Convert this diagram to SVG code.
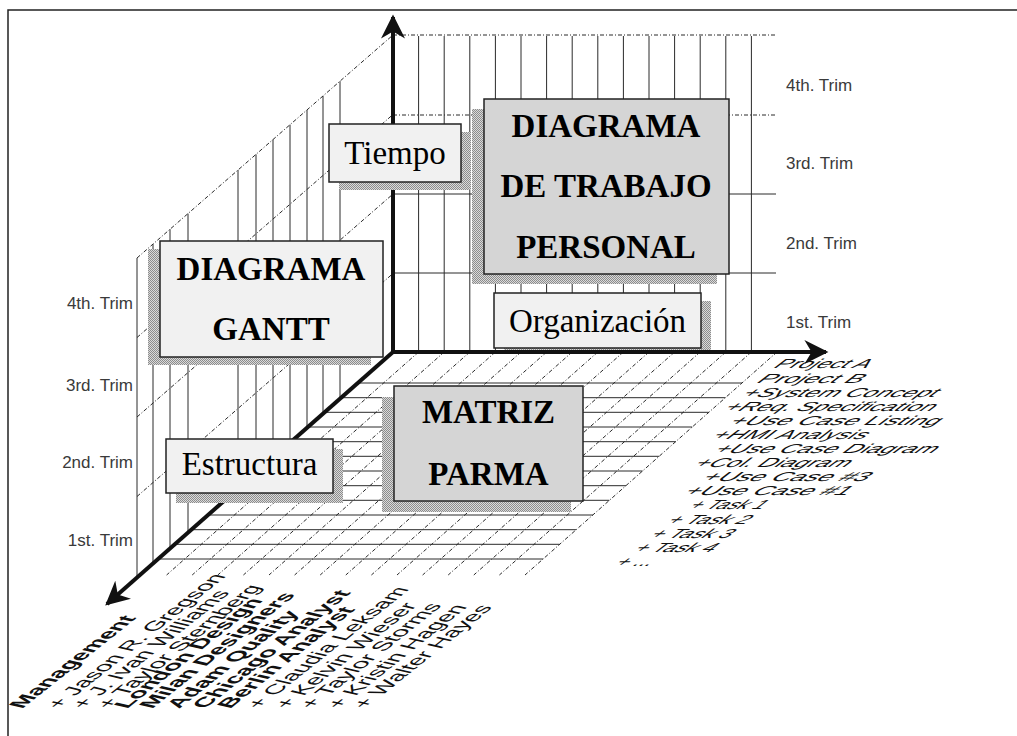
<svg xmlns="http://www.w3.org/2000/svg" width="1017" height="736" viewBox="0 0 1017 736">
<defs>
<pattern id="stip" width="2" height="2" patternUnits="userSpaceOnUse"><rect width="2" height="2" fill="#dadada"/><rect width="1" height="1" fill="#8c8c8c"/><rect x="1" y="1" width="1" height="1" fill="#8c8c8c"/></pattern>
<marker id="ah" viewBox="0 0 10 10" refX="9" refY="5" markerWidth="6.5" markerHeight="6" orient="auto" markerUnits="strokeWidth"><path d="M0,0 L10,5 L0,10 L3,5 z" fill="#111"/></marker>
<style>
.g{stroke:#2a2a2a;stroke-width:1;fill:none}
.d{stroke:#2a2a2a;stroke-width:1;fill:none;stroke-dasharray:4 2 1 2}
.ax{stroke:#111;stroke-width:4;fill:none}
.sh{fill:url(#stip)}
.bl{fill:#f1f1f1;stroke:#222;stroke-width:1.5}
.bd{fill:#d5d5d5;stroke:#222;stroke-width:1.5}
.t{font-family:"Liberation Serif","Times New Roman",serif;font-size:33px;fill:#000;text-anchor:middle}
.tb{font-weight:bold}
.tr{font-family:"Liberation Sans",Arial,sans-serif;font-size:17px;fill:#3a3a3a}
.rl{font-family:"Liberation Sans",Arial,sans-serif;font-size:18px;fill:#111}
.fl{font-family:"Liberation Sans",Arial,sans-serif;font-size:16px;fill:#111}
.fb{font-weight:bold}
</style>
</defs>
<rect width="1017" height="736" fill="#fff"/>
<path d="M8,736 V10 H1017" stroke="#222" stroke-width="1.5" fill="none"/>

<g id="back-wall">
<path class="g" d="M418.6,36V352M444.2,36V352M469.8,36V352M495.4,36V352M521,36V352M546.6,36V352M572.2,36V352M597.8,36V352M623.4,36V352M649,36V352M674.6,36V352M700.2,36V352M725.8,36V352M751.4,36V352"/>
<path class="g" d="M393,194H776M393,273H776"/>
<path class="d" d="M393,35H776M393,115H776"/>
</g>

<g id="left-wall">
<path class="g" d="M137,258V578.6M153,244.1V564.4M170,229.2V549.4M188,213.6V533.5M238,170V489.3M256,154.4V473.2M273,139.5V458.2M290,124.8V443.2M307,110V428.1M323,96V414M340,81.2V398.9"/>
<path class="d" d="M137,258L393,35M137,337.5L393,114.5M137,417L393,194M137,496.5L393,273.5"/>
</g>

<g id="floor">
<path class="g" d="M358,383H742M341.4,397.7H725.4M324.8,412.3H708.8M308.3,427H692.3M291.7,441.7H675.7M275.1,456.3H659.1M258.5,471H642.5M242,485.7H626M225.4,500.3H609.4M208.8,515H592.8M192.2,529.7H576.2M175.7,544.3H559.7M159.1,559H543.1"/>
<path class="d" d="M418.6,352L166.6,575M444.2,352L192.2,575M469.8,352L217.8,575M495.4,352L243.4,575M521,352L269,575M546.6,352L294.6,575M572.2,352L320.2,575M597.8,352L345.8,575M623.4,352L371.4,575M649,352L397,575M674.6,352L422.6,575M700.2,352L448.2,575M725.8,352L473.8,575M751.4,352L499.4,575M777,352L525,575"/>
</g>

<g id="connectors">
<path class="ax" d="M393,352V17" marker-end="url(#ah)"/>
<path class="ax" d="M393,352H826" marker-end="url(#ah)"/>
<path class="ax" d="M393,352L107,604" marker-end="url(#ah)"/>
</g>

<g id="tiempo">
<rect class="sh" x="339" y="132" width="132" height="58"/>
<rect class="bl" x="329" y="124" width="132" height="58"/>
<text class="t" x="395" y="164">Tiempo</text>
</g>

<g id="diagrama-trabajo">
<rect class="sh" x="472" y="109" width="245" height="175"/>
<rect class="bd" x="484" y="99" width="245" height="175"/>
<text class="t tb" x="606" y="137">DIAGRAMA</text>
<text class="t tb" x="606" y="197">DE TRABAJO</text>
<text class="t tb" x="606" y="258">PERSONAL</text>
</g>

<g id="diagrama-gantt">
<rect class="sh" x="148" y="249" width="223" height="116"/>
<rect class="bl" x="160" y="241" width="223" height="116"/>
<text class="t tb" x="271" y="280">DIAGRAMA</text>
<text class="t tb" x="271" y="340">GANTT</text>
</g>

<g id="organizacion">
<rect class="sh" x="504" y="301" width="207" height="49"/>
<rect class="bl" x="494" y="293" width="207" height="55"/>
<text class="t" x="597.5" y="332">Organización</text>
</g>

<g id="estructura">
<rect class="sh" x="176" y="449" width="167" height="54"/>
<rect class="bl" x="166" y="439" width="167" height="54"/>
<text class="t" x="249.5" y="475">Estructura</text>
</g>

<g id="matriz-parma">
<rect class="sh" x="382" y="397" width="189" height="115"/>
<rect class="bd" x="394" y="386" width="189" height="115"/>
<text class="t tb" x="488.5" y="423">MATRIZ</text>
<text class="t tb" x="488.5" y="485">PARMA</text>
</g>

<g id="trim-left" class="tr" text-anchor="end">
<text x="133" y="309">4th. Trim</text>
<text x="133" y="391">3rd. Trim</text>
<text x="133" y="468">2nd. Trim</text>
<text x="133" y="546">1st. Trim</text>
</g>

<g id="trim-right" class="tr">
<text x="786" y="91">4th. Trim</text>
<text x="786" y="169">3rd. Trim</text>
<text x="786" y="249">2nd. Trim</text>
<text x="786" y="328">1st. Trim</text>
</g>

<g id="tasks" class="rl">
<text transform="matrix(1,0,-0.95,0.72,772,368)" textLength="94" lengthAdjust="spacingAndGlyphs">Project A</text>
<text transform="matrix(1,0,-0.95,0.72,755,383)" textLength="104" lengthAdjust="spacingAndGlyphs">Project B</text>
<text transform="matrix(1,0,-0.95,0.72,740,397)" textLength="193" lengthAdjust="spacingAndGlyphs">+System Concept</text>
<text transform="matrix(1,0,-0.95,0.72,722,411)" textLength="209" lengthAdjust="spacingAndGlyphs">+Req. Specification</text>
<text transform="matrix(1,0,-0.95,0.72,727,425)" textLength="209" lengthAdjust="spacingAndGlyphs">+Use Case Listing</text>
<text transform="matrix(1,0,-0.95,0.72,710,439)" textLength="153" lengthAdjust="spacingAndGlyphs">+HMI Analysis</text>
<text transform="matrix(1,0,-0.95,0.72,712,453)" textLength="221" lengthAdjust="spacingAndGlyphs">+Use Case Diagram</text>
<text transform="matrix(1,0,-0.95,0.72,692,467)" textLength="154" lengthAdjust="spacingAndGlyphs">+Col. Diagram</text>
<text transform="matrix(1,0,-0.95,0.72,700,481)" textLength="165" lengthAdjust="spacingAndGlyphs">+Use Case #3</text>
<text transform="matrix(1,0,-0.95,0.72,682,495)" textLength="164" lengthAdjust="spacingAndGlyphs">+Use Case #1</text>
<text transform="matrix(1,0,-0.95,0.72,687,509)" textLength="74" lengthAdjust="spacingAndGlyphs">+ Task 1</text>
<text transform="matrix(1,0,-0.95,0.72,665,524)" textLength="80" lengthAdjust="spacingAndGlyphs">+ Task 2</text>
<text transform="matrix(1,0,-0.95,0.72,648,538)" textLength="80" lengthAdjust="spacingAndGlyphs">+ Task 3</text>
<text transform="matrix(1,0,-0.95,0.72,632,552)" textLength="79" lengthAdjust="spacingAndGlyphs">+ Task 4</text>
<text transform="matrix(1,0,-0.95,0.72,613,566)" textLength="36" lengthAdjust="spacingAndGlyphs">+ ...</text>
</g>

<g id="people" class="fl">
<text class="fb" transform="matrix(1.175,-0.933,1.3,0.3,22,709)">Management</text>
<text transform="matrix(1.175,-0.933,1.3,0.3,59,709)">+ Jason R. Gregson</text>
<text transform="matrix(1.175,-0.933,1.3,0.3,84,709)">+ J. Ivan Williams</text>
<text transform="matrix(1.175,-0.933,1.3,0.3,109,709)">+ Taylor Sternberg</text>
<text class="fb" transform="matrix(1.175,-0.933,1.3,0.3,127,709)">London Design</text>
<text class="fb" transform="matrix(1.175,-0.933,1.3,0.3,152,709)">Milan Designers</text>
<text class="fb" transform="matrix(1.175,-0.933,1.3,0.3,179,709)">Adam Quality</text>
<text class="fb" transform="matrix(1.175,-0.933,1.3,0.3,205,709)">Chicago Analyst</text>
<text class="fb" transform="matrix(1.175,-0.933,1.3,0.3,230,709)">Berlin Analyst</text>
<text transform="matrix(1.175,-0.933,1.3,0.3,259,709)">+ Claudia Leksam</text>
<text transform="matrix(1.175,-0.933,1.3,0.3,287,709)">+ Kelvin Wieser</text>
<text transform="matrix(1.175,-0.933,1.3,0.3,312,709)">+ Taylor Storms</text>
<text transform="matrix(1.175,-0.933,1.3,0.3,339,709)">+ Kristin Hagen</text>
<text transform="matrix(1.175,-0.933,1.3,0.3,365,709)">+ Walter Hayes</text>
</g>
</svg>
